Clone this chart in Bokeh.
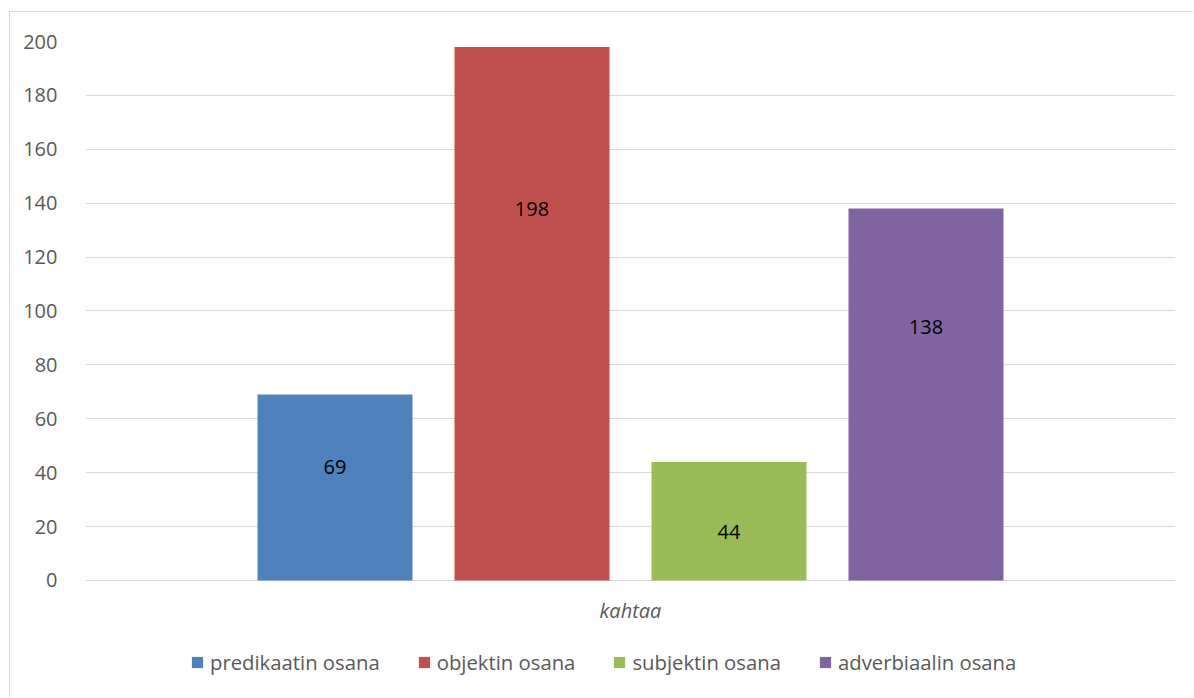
from bokeh.plotting import figure
from bokeh.models import ColumnDataSource, FactorRange, Legend, LegendItem, Range1d, FixedTicker, LabelSet
from bokeh.transform import dodge
from bokeh.core.properties import value
from bokeh.embed import file_html
from bokeh.resources import INLINE

category = "kahtaa"
series = ["predikaatin osana", "objektin osana", "subjektin osana", "adverbiaalin osana"]
values = [69, 198, 44, 138]
label_heights = [42, 138, 18, 94]
colors = ["#4F81BD", "#C0504D", "#9BBB59", "#8064A2"]
y_ticks = [0, 20, 40, 60, 80, 100, 120, 140, 160, 180, 200]

FONT = "Open Sans"
FS = "20px"
W, H = 1184, 686
# frame extends below zero so the legend and category label can live inside it
p = figure(width=W, height=H, output_backend="svg", toolbar_location=None,
           x_range=FactorRange(category, range_padding=0), y_range=Range1d(-43.8, 200),
           min_border_left=75, min_border_right=19, min_border_top=29, min_border_bottom=0,
           styles={"margin-top": "11px", "margin-left": "9px",
                   "border-top": "1px solid #d9d9d9", "border-left": "1px solid #d9d9d9"})
p.outline_line_color = None
p.xgrid.grid_line_color = None
p.ygrid.grid_line_color = "#d9d9d9"
p.ygrid.grid_line_width = 1
p.yaxis.ticker = FixedTicker(ticks=y_ticks)
p.xaxis.visible = False
ax = p.yaxis
ax.axis_line_color = None
ax.major_tick_line_color = None
ax.minor_tick_line_color = None
ax.major_label_text_font = FONT
ax.major_label_text_color = "#595959"
ax.major_label_text_font_size = FS
ax.major_label_standoff = 22

# category label
p.text(x=[category], y=[-11.1], text=[category], text_align="center", text_baseline="middle",
       text_font=value(FONT), text_font_size=value(FS), text_font_style="italic",
       text_color="#595959")

spacing = 197 / 1090
width = 155 / 1090
renderers = []
for i, (name, v, ly, c) in enumerate(zip(series, values, label_heights, colors)):
    off = (i - 1.5) * spacing
    src = ColumnDataSource(dict(x=[category], top=[v], ly=[ly], txt=[str(v)]))
    r = p.vbar(x=dodge("x", off, range=p.x_range), top="top", width=width, source=src,
               fill_color=c, line_color=None)
    renderers.append(r)
    lbl = LabelSet(x=dodge("x", off, range=p.x_range), y="ly", text="txt", source=src,
                   text_align="center", text_baseline="middle", text_font=value(FONT),
                   text_font_size=value(FS), text_color="#000000")
    p.add_layout(lbl)

legend = Legend(items=[LegendItem(label=s, renderers=[r]) for s, r in zip(series, renderers)],
                orientation="horizontal", location=(105, 22),
                label_text_font=FONT, label_text_font_size="20.3px", label_text_color="#595959",
                glyph_width=14, glyph_height=14, spacing=37, label_standoff=6,
                background_fill_alpha=0, border_line_color=None, padding=0, margin=0)
p.add_layout(legend)

open("out.html", "w").write(file_html(p, INLINE))
